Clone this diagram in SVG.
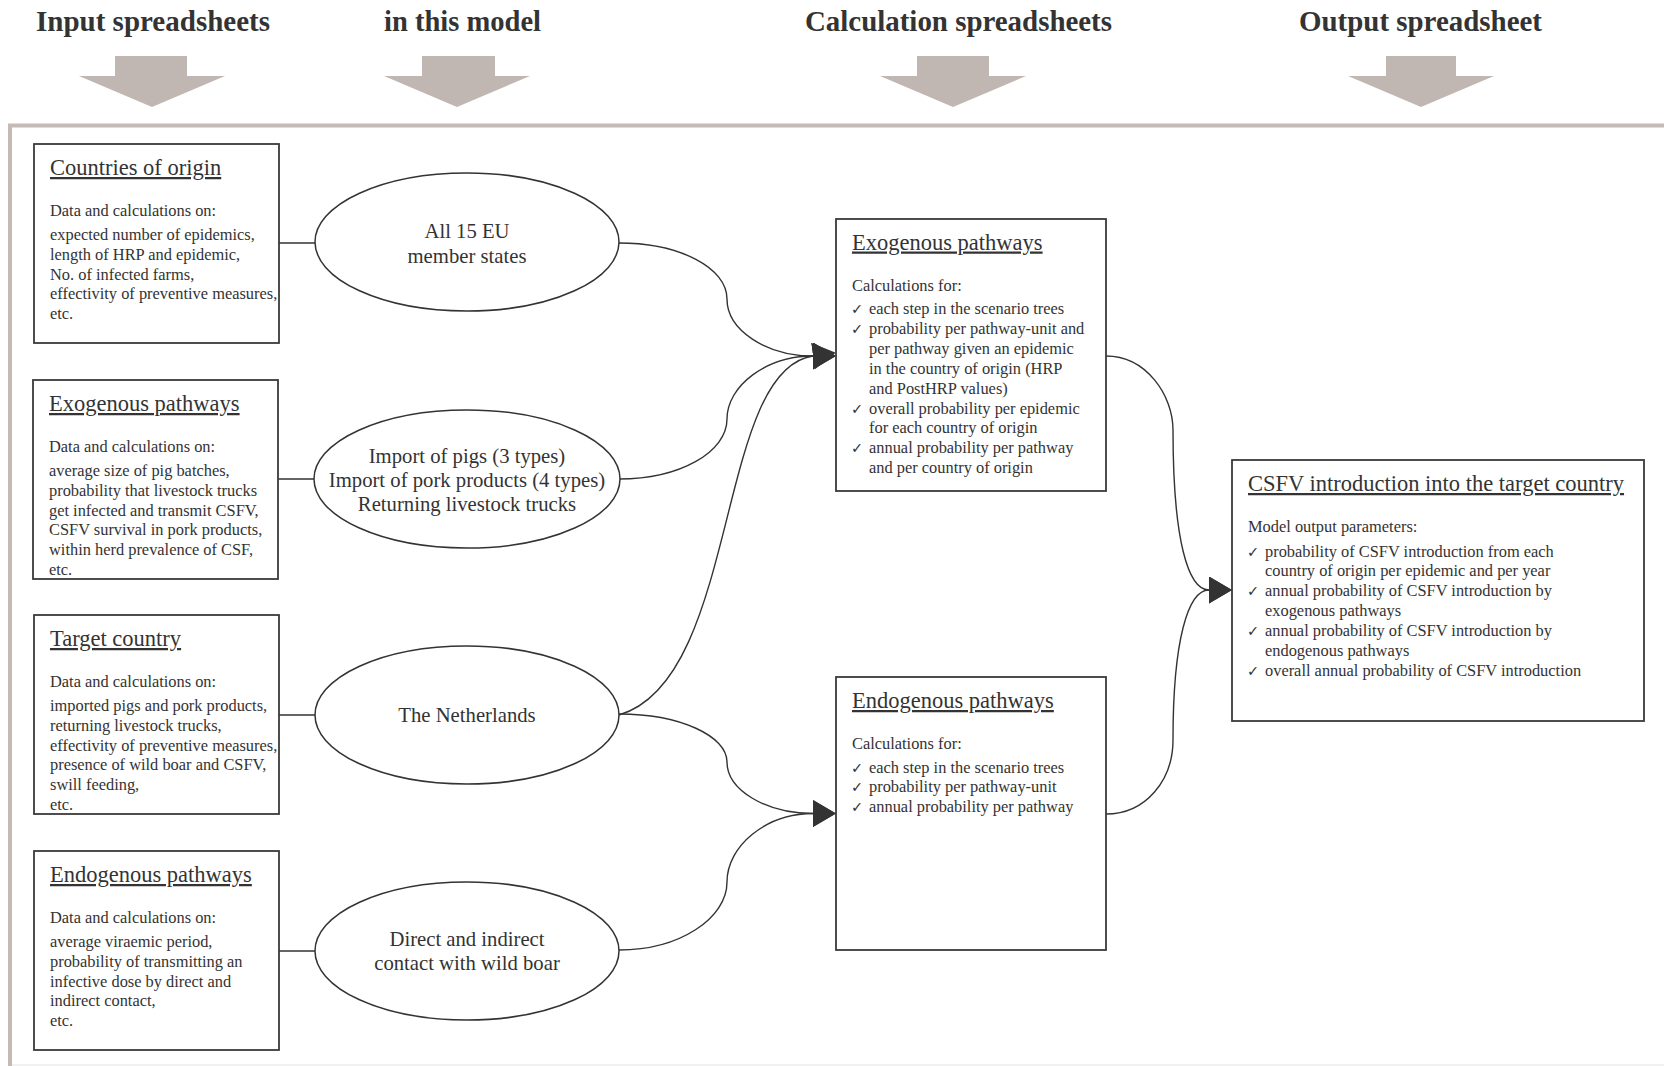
<svg xmlns="http://www.w3.org/2000/svg" width="1664" height="1066" viewBox="0 0 1664 1066">
  <style>
    .hdr { font-family: "Liberation Serif", "Times New Roman", serif; font-weight: bold; font-size: 30px; fill: #333; text-anchor: middle; }
    .ttl { font-family: "Liberation Serif", "Times New Roman", serif; font-size: 22.5px; fill: #333; text-decoration: underline; }
    .txt { font-family: "Liberation Serif", "Times New Roman", serif; font-size: 16.4px; fill: #333; }
    .ell { font-family: "Liberation Serif", "Times New Roman", serif; font-size: 20.7px; fill: #333; text-anchor: middle; }
    .ck { font-family: "DejaVu Sans", sans-serif; font-size: 14.5px; }
    .box { fill: #fff; stroke: #3a3a3a; stroke-width: 1.8; }
    .oval { fill: #fff; stroke: #333; stroke-width: 1.5; }
    .link { fill: none; stroke: #333; stroke-width: 1.4; }
    .big { fill: #c0b7b3; }
    .frame { fill: none; stroke: #c4bbb7; stroke-width: 4; }
  </style>
  <defs>
    <marker id="head" markerUnits="userSpaceOnUse" markerWidth="24" markerHeight="28" refX="0" refY="13.5" orient="auto">
      <path d="M0,0 L23,13.5 L0,27 z" fill="#333"/>
    </marker>
  </defs>

  <rect width="1664" height="1066" fill="#fff"/>

  <!-- column headings -->
  <g id="headings">
    <text class="hdr" x="153" y="31" textLength="234" lengthAdjust="spacingAndGlyphs">Input spreadsheets</text>
    <text class="hdr" x="462.5" y="31" textLength="157" lengthAdjust="spacingAndGlyphs">in this model</text>
    <text class="hdr" x="958.5" y="31" textLength="307" lengthAdjust="spacingAndGlyphs">Calculation spreadsheets</text>
    <text class="hdr" x="1420.5" y="31" textLength="243" lengthAdjust="spacingAndGlyphs">Output spreadsheet</text>
  </g>

  <!-- broad downward arrows under the headings -->
  <g id="column-arrows">
    <path class="big" d="M115,56 H187 V76 H225 L152,107 L79,76 H115 Z"/>
    <path class="big" d="M422,56 H495 V76 H530 L457,107 L384,76 H422 Z"/>
    <path class="big" d="M917,56 H989 V76 H1026 L953,107 L880,76 H917 Z"/>
    <path class="big" d="M1386,56 H1456 V76 H1494 L1421,107 L1348,76 H1386 Z"/>
  </g>

  <!-- enclosing frame -->
  <path class="frame" d="M10,1066 V125.5 H1664"/>
  <line x1="12" y1="1065" x2="1664" y2="1065" stroke="#ececec" stroke-width="1.5"/>

  <!-- connectors -->
  <g id="connectors">
    <line class="link" x1="279" y1="243" x2="315" y2="243"/>
    <line class="link" x1="278" y1="479" x2="315" y2="479"/>
    <line class="link" x1="279" y1="715" x2="315" y2="715"/>
    <line class="link" x1="279" y1="951" x2="315" y2="951"/>

    <path class="link" marker-end="url(#head)" d="M619,243 C680,243 727,268 727,299 C727,330 766,356 813,356"/>
    <path class="link" marker-end="url(#head)" d="M619,479 C680,479 727,452 727,419 C727,386 766,356 813,356"/>
    <path class="link" marker-end="url(#head)" d="M619,715 C740,680 715,370 813,356"/>
    <path class="link" marker-end="url(#head)" d="M619,714 C680,714 727,736 727,762 C727,790 766,813.5 813,813.5"/>
    <path class="link" marker-end="url(#head)" d="M619,950 C680,950 727,918 727,882 C727,846 766,813.5 813,813.5"/>

    <path class="link" marker-end="url(#head)" d="M1106,356 C1146,356 1173,395 1173,430 C1173,540 1188,590 1209,590"/>
    <path class="link" marker-end="url(#head)" d="M1106,814 C1146,814 1173,780 1173,740 C1173,640 1188,590 1209,590"/>
  </g>

  <!-- input spreadsheets -->
  <g id="in-countries">
    <rect class="box" x="34" y="144" width="245" height="199"/>
    <text class="ttl" x="50" y="175">Countries of origin</text>
    <text class="txt" x="50" y="216">Data and calculations on:</text>
    <text class="txt">
      <tspan x="50" y="240">expected number of epidemics,</tspan>
      <tspan x="50" y="259.8">length of HRP and epidemic,</tspan>
      <tspan x="50" y="279.6">No. of infected farms,</tspan>
      <tspan x="50" y="299.4">effectivity of preventive measures,</tspan>
      <tspan x="50" y="319.2">etc.</tspan>
    </text>
  </g>

  <g id="in-exogenous">
    <rect class="box" x="33" y="380" width="245" height="199"/>
    <text class="ttl" x="49" y="411">Exogenous pathways</text>
    <text class="txt" x="49" y="452">Data and calculations on:</text>
    <text class="txt">
      <tspan x="49" y="476">average size of pig batches,</tspan>
      <tspan x="49" y="495.8">probability that livestock trucks</tspan>
      <tspan x="49" y="515.6">get infected and transmit CSFV,</tspan>
      <tspan x="49" y="535.4">CSFV survival in pork products,</tspan>
      <tspan x="49" y="555.2">within herd prevalence of CSF,</tspan>
      <tspan x="49" y="575">etc.</tspan>
    </text>
  </g>

  <g id="in-target">
    <rect class="box" x="34" y="615" width="245" height="199"/>
    <text class="ttl" x="50" y="646">Target country</text>
    <text class="txt" x="50" y="687">Data and calculations on:</text>
    <text class="txt">
      <tspan x="50" y="711">imported pigs and pork products,</tspan>
      <tspan x="50" y="730.8">returning livestock trucks,</tspan>
      <tspan x="50" y="750.6">effectivity of preventive measures,</tspan>
      <tspan x="50" y="770.4">presence of wild boar and CSFV,</tspan>
      <tspan x="50" y="790.2">swill feeding,</tspan>
      <tspan x="50" y="810">etc.</tspan>
    </text>
  </g>

  <g id="in-endogenous">
    <rect class="box" x="34" y="851" width="245" height="199"/>
    <text class="ttl" x="50" y="882">Endogenous pathways</text>
    <text class="txt" x="50" y="923">Data and calculations on:</text>
    <text class="txt">
      <tspan x="50" y="947">average viraemic period,</tspan>
      <tspan x="50" y="966.8">probability of transmitting an</tspan>
      <tspan x="50" y="986.6">infective dose by direct and</tspan>
      <tspan x="50" y="1006.4">indirect contact,</tspan>
      <tspan x="50" y="1026.2">etc.</tspan>
    </text>
  </g>

  <!-- scope of the model -->
  <g id="scope-eu">
    <ellipse class="oval" cx="467" cy="242" rx="152" ry="69"/>
    <text class="ell" x="467" y="238">All 15 EU</text>
    <text class="ell" x="467" y="263">member states</text>
  </g>

  <g id="scope-pathways">
    <ellipse class="oval" cx="467" cy="479" rx="153" ry="69"/>
    <text class="ell" x="467" y="462.5">Import of pigs (3 types)</text>
    <text class="ell" x="467" y="486.5">Import of pork products (4 types)</text>
    <text class="ell" x="467" y="510.5">Returning livestock trucks</text>
  </g>

  <g id="scope-nl">
    <ellipse class="oval" cx="467" cy="715" rx="152" ry="69"/>
    <text class="ell" x="467" y="722">The Netherlands</text>
  </g>

  <g id="scope-wildboar">
    <ellipse class="oval" cx="467" cy="951" rx="152" ry="69"/>
    <text class="ell" x="467" y="946">Direct and indirect</text>
    <text class="ell" x="467" y="970">contact with wild boar</text>
  </g>

  <!-- calculation spreadsheets -->
  <g id="calc-exogenous">
    <rect class="box" x="836" y="219" width="270" height="272"/>
    <text class="ttl" x="852" y="249.5">Exogenous pathways</text>
    <text class="txt" x="852" y="291">Calculations for:</text>
    <text class="txt">
      <tspan class="ck" x="851" y="314">✓</tspan><tspan x="869" y="314">each step in the scenario trees</tspan>
      <tspan class="ck" x="851" y="333.9">✓</tspan><tspan x="869" y="333.9">probability per pathway-unit and</tspan>
      <tspan x="869" y="353.8">per pathway given an epidemic</tspan>
      <tspan x="869" y="373.7">in the country of origin (HRP</tspan>
      <tspan x="869" y="393.6">and PostHRP values)</tspan>
      <tspan class="ck" x="851" y="413.5">✓</tspan><tspan x="869" y="413.5">overall probability per epidemic</tspan>
      <tspan x="869" y="433.4">for each country of origin</tspan>
      <tspan class="ck" x="851" y="453.3">✓</tspan><tspan x="869" y="453.3">annual probability per pathway</tspan>
      <tspan x="869" y="473.2">and per country of origin</tspan>
    </text>
  </g>

  <g id="calc-endogenous">
    <rect class="box" x="836" y="677" width="270" height="273"/>
    <text class="ttl" x="852" y="708">Endogenous pathways</text>
    <text class="txt" x="852" y="749">Calculations for:</text>
    <text class="txt">
      <tspan class="ck" x="851" y="772.5">✓</tspan><tspan x="869" y="772.5">each step in the scenario trees</tspan>
      <tspan class="ck" x="851" y="792.4">✓</tspan><tspan x="869" y="792.4">probability per pathway-unit</tspan>
      <tspan class="ck" x="851" y="812.3">✓</tspan><tspan x="869" y="812.3">annual probability per pathway</tspan>
    </text>
  </g>

  <!-- output spreadsheet -->
  <g id="output">
    <rect class="box" x="1232" y="460" width="412" height="261"/>
    <text class="ttl" x="1248" y="491">CSFV introduction into the target country</text>
    <text class="txt" x="1248" y="532">Model output parameters:</text>
    <text class="txt">
      <tspan class="ck" x="1247" y="556.5">✓</tspan><tspan x="1265" y="556.5">probability of CSFV introduction from each</tspan>
      <tspan x="1265" y="576.4">country of origin per epidemic and per year</tspan>
      <tspan class="ck" x="1247" y="596.3">✓</tspan><tspan x="1265" y="596.3">annual probability of CSFV introduction by</tspan>
      <tspan x="1265" y="616.2">exogenous pathways</tspan>
      <tspan class="ck" x="1247" y="636.1">✓</tspan><tspan x="1265" y="636.1">annual probability of CSFV introduction by</tspan>
      <tspan x="1265" y="656">endogenous pathways</tspan>
      <tspan class="ck" x="1247" y="675.9">✓</tspan><tspan x="1265" y="675.9">overall annual probability of CSFV introduction</tspan>
    </text>
  </g>
</svg>
